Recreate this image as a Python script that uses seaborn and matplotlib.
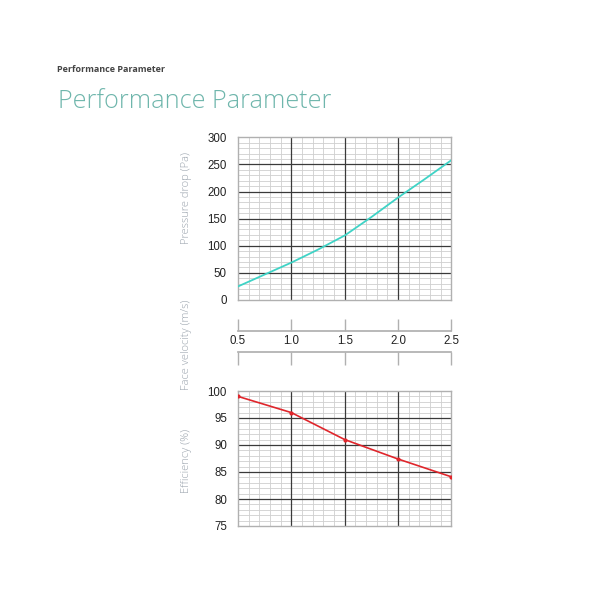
import matplotlib
matplotlib.use("Agg")
import matplotlib.pyplot as plt
import numpy as np
import pandas as pd
import seaborn as sns
from matplotlib.ticker import FixedLocator

# values
velocity_dp = [0.5, 0.75, 1.0, 1.25, 1.5, 1.75, 2.0, 2.25, 2.5]
pressure_drop = [25, 47, 69, 93, 119, 153, 189, 223, 258]

velocity_eff = [0.5, 1.0, 1.5, 2.0, 2.5]
efficiency = [99.0, 96.0, 91.0, 87.4, 84.1]

velocity_ticks = [0.5, 1.0, 1.5, 2.0, 2.5]
pressure_ticks = [0, 50, 100, 150, 200, 250, 300]
efficiency_ticks = [75, 80, 85, 90, 95, 100]

sns.set_theme(style="white")
plt.rcParams["font.family"] = ["Liberation Sans", "DejaVu Sans"]

label_color = "#98a1ab"
frame_color = "#b0b0b0"

fig = plt.figure(figsize=(6, 6), dpi=100)
fig.patch.set_facecolor("white")

fig.text(57 / 600, 1 - 69 / 600, "Performance Parameter", fontsize=6.5,
         fontweight="bold", color="#444444", family=["Open Sans", "DejaVu Sans"],
         va="center", ha="left")
fig.text(58 / 600, 1 - 101 / 600, "Performance Parameter", fontsize=18.2,
         fontweight="light", color="#6fb6ac", family=["Open Sans", "DejaVu Sans"],
         va="center", ha="left")

left, width = 238 / 600, 213.5 / 600
ax1 = fig.add_axes([left, 1 - 300 / 600, width, 162.7 / 600])
ax2 = fig.add_axes([left, 1 - 526 / 600, width, 135 / 600])
ax_mid_top = fig.add_axes([left, 1 - 331 / 600, width, 16 / 600])
ax_mid_bot = fig.add_axes([left, 1 - 368 / 600, width, 16 / 600])


def minor_between(majors, step):
    # minor grid positions that skip the major lines
    pts = np.round(np.arange(majors[0], majors[-1] + step / 2, step), 4)
    return [p for p in pts if not np.any(np.isclose(p, majors))]


def paper_grid(ax, yticks, ystep):
    ax.set_xlim(velocity_ticks[0], velocity_ticks[-1])
    ax.set_ylim(yticks[0], yticks[-1])
    ax.xaxis.set_major_locator(FixedLocator(velocity_ticks))
    ax.xaxis.set_minor_locator(FixedLocator(minor_between(velocity_ticks, 0.1)))
    ax.yaxis.set_major_locator(FixedLocator(yticks))
    ax.yaxis.set_minor_locator(FixedLocator(minor_between(yticks, ystep)))
    ax.set_axisbelow(True)
    ax.grid(which="minor", color="#cfcfcf", linewidth=0.6)
    ax.grid(which="major", visible=False)
    # major lines on top of the fine grid, under the curve
    for v in velocity_ticks[1:-1]:
        ax.axvline(v, color="#3a3a3a", linewidth=0.9, zorder=1)
    for v in yticks[1:-1]:
        ax.axhline(v, color="#3a3a3a", linewidth=0.9, zorder=1)
    for s in ax.spines.values():
        s.set_color(frame_color)
        s.set_linewidth(1.0)
    ax.tick_params(which="both", length=0, labelsize=8.3, colors="#222222")
    ax.tick_params(axis="x", labelbottom=False)
    ax.tick_params(axis="y", pad=8)
    ax.set_xlabel("")
    ax.set_ylabel("")


df_dp = pd.DataFrame({"velocity": velocity_dp, "pressure": pressure_drop})
sns.lineplot(data=df_dp, x="velocity", y="pressure", color="#3fd3c6",
             linewidth=1.3, ax=ax1, zorder=3)
paper_grid(ax1, pressure_ticks, 10)

df_eff = pd.DataFrame({"velocity": velocity_eff, "efficiency": efficiency})
sns.lineplot(data=df_eff, x="velocity", y="efficiency", color="#e0262c",
             linewidth=1.2, marker="o", markersize=3, markeredgewidth=0,
             ax=ax2, zorder=3)
paper_grid(ax2, efficiency_ticks, 1)

# middle velocity scale: ticks up from one line, ticks down from another
for ax in (ax_mid_top, ax_mid_bot):
    ax.set_xlim(velocity_ticks[0], velocity_ticks[-1])
    ax.set_xticks(velocity_ticks)
    ax.set_yticks([])
    ax.patch.set_alpha(0)
    for s in ax.spines.values():
        s.set_visible(False)

ax_mid_top.spines["bottom"].set_visible(True)
ax_mid_top.spines["bottom"].set_color(frame_color)
ax_mid_top.tick_params(axis="x", direction="in", length=9, width=1.0,
                       color=frame_color, labelsize=8.3, labelcolor="#222222",
                       pad=3, bottom=True)
ax_mid_top.set_xticklabels([f"{v:.1f}" for v in velocity_ticks])

ax_mid_bot.spines["top"].set_visible(True)
ax_mid_bot.spines["top"].set_color(frame_color)
ax_mid_bot.tick_params(axis="x", direction="in", length=9, width=1.0,
                       color=frame_color, top=True, bottom=False,
                       labeltop=False, labelbottom=False)

label_font = dict(fontsize=8, color=label_color, rotation=90,
                  family=["Open Sans", "DejaVu Sans"], fontweight="light",
                  ha="center", va="center")
fig.text(187 / 600, 1 - 198 / 600, "Pressure drop (Pa)", **label_font)
fig.text(187 / 600, 1 - 345 / 600, "Face velocity (m/s)", **label_font)
fig.text(187 / 600, 1 - 461 / 600, "Efficiency (%)", **label_font)

fig.savefig("out.png", dpi=100, facecolor="white")
